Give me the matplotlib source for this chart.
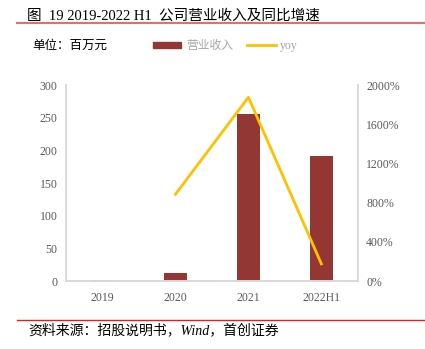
import numpy as np
import matplotlib.pyplot as plt
from matplotlib.lines import Line2D
from matplotlib.patches import Patch

plt.rcParams['font.family'] = ['Liberation Serif', 'Noto Sans CJK SC', 'DejaVu Sans']

# Donnees
years = ['2019', '2020', '2021', '2022H1']
revenue = [1.5, 12.5, 255, 191]        # millions de yuan
yoy = [np.nan, 885, 1875, 175]         # %

bar_color = '#943634'
line_color = '#ffc000'
grey = '#595959'
spine_grey = '#d9d9d9'

fig = plt.figure(figsize=(4.25, 3.49), dpi=100)
ax = fig.add_axes([0.1553, 0.1948, 0.6867, 0.5616])
x = np.arange(len(years))
ax.bar(x, revenue, width=0.31, color=bar_color, zorder=2)
ax.set_xlim(-0.5, len(years) - 0.5)
ax.set_ylim(0, 300)
ax.set_yticks(np.arange(0, 301, 50))
ax.set_xticks(x)
ax.set_xticklabels(years)

ax2 = ax.twinx()
ax2.plot(x, yoy, color=line_color, linewidth=2, zorder=3)
ax2.set_ylim(0, 2000)
ax2.set_yticks(np.arange(0, 2001, 400))
ax2.set_yticklabels([f'{v}%' for v in range(0, 2001, 400)])

for a in (ax, ax2):
	a.spines['top'].set_visible(False)
	for s in ('left', 'right', 'bottom'):
		a.spines[s].set_color(spine_grey)
		a.spines[s].set_linewidth(1.2)
	a.tick_params(length=0, labelsize=8.5, labelcolor=grey, pad=6)
ax.tick_params(axis='x', pad=8)

# Titre et filets rouges
fig.text(0.064, 0.955, '图  19 2019-2022 H1  公司营业收入及同比增速', fontsize=10.5,
		 va='center', ha='left', color='black')
fig.add_artist(Line2D([0.04, 1.0], [0.934, 0.934], color='#e07070', linewidth=1.5))
fig.add_artist(Line2D([0.04, 1.0], [0.083, 0.083], color='#e02020', linewidth=1))
fig.text(0.066, 0.053, '资料来源：招股说明书，Wind，首创证券', fontsize=10,
		 va='center', ha='left', style='italic', color='black')

fig.text(0.077, 0.868, '单位：百万元', fontsize=9, va='center', ha='left', color='black')
handles = [Patch(color=bar_color), Line2D([0], [0], color=line_color, linewidth=2)]
fig.legend(handles, ['营业收入', 'yoy'], loc='center left', bbox_to_anchor=(0.335, 0.868),
		   ncol=2, frameon=False, fontsize=8.5, labelcolor='#a6a6a6',
		   handlelength=2.4, handleheight=0.5, columnspacing=1.2, handletextpad=0.4)

fig.savefig('out.png', dpi=100)
